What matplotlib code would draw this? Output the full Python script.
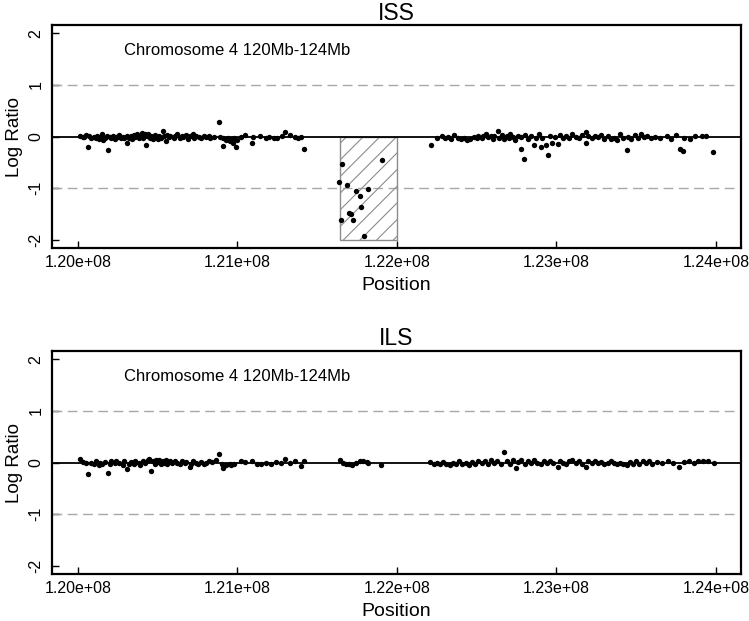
import numpy as np
import matplotlib
matplotlib.use("Agg")
import matplotlib.pyplot as plt
from matplotlib.patches import Rectangle
from matplotlib.ticker import FuncFormatter

plt.rcParams["font.family"] = ["Liberation Sans", "DejaVu Sans"]
plt.rcParams["hatch.linewidth"] = 0.8
plt.rcParams["axes.unicode_minus"] = False

# ISS probes: position (Mb) and log ratio
iss_pos = [
    120.01, 120.03, 120.04, 120.05, 120.065, 120.07, 120.08, 120.10, 120.11, 120.12,
    120.13, 120.14, 120.15, 120.16, 120.17, 120.18, 120.19, 120.20, 120.21, 120.22,
    120.23, 120.24, 120.25, 120.26, 120.27, 120.28, 120.29, 120.305, 120.31, 120.32,
    120.33, 120.34, 120.35, 120.36, 120.37, 120.38, 120.39, 120.40, 120.41, 120.42,
    120.425, 120.43, 120.44, 120.45, 120.46, 120.47, 120.48, 120.49, 120.50, 120.51,
    120.52, 120.53, 120.54, 120.55, 120.56, 120.57, 120.58, 120.60, 120.61, 120.62,
    120.64, 120.65, 120.66, 120.68, 120.69, 120.70, 120.72, 120.73, 120.74, 120.76,
    120.77, 120.79, 120.80, 120.82, 120.83, 120.85, 120.887, 120.89, 120.91, 120.912,
    120.93, 120.94, 120.95, 120.96, 120.97, 120.98, 120.99, 121.00, 121.02, 121.05,
    121.088, 121.10, 121.14, 121.18, 121.20, 121.23, 121.25, 121.28, 121.30, 121.33,
    121.36, 121.38, 121.40, 121.417,
    # deleted region
    121.636, 121.647, 121.655, 121.684, 121.697, 121.714, 121.726, 121.745, 121.766,
    121.774, 121.793, 121.818, 121.905,
    122.215, 122.25, 122.28, 122.30, 122.32, 122.34, 122.36, 122.38, 122.40, 122.42,
    122.44, 122.46, 122.48, 122.50, 122.51, 122.53, 122.54, 122.56, 122.57, 122.59,
    122.60, 122.61, 122.632, 122.64, 122.66, 122.67, 122.69, 122.70, 122.71, 122.73,
    122.74, 122.76, 122.776, 122.78, 122.795, 122.80, 122.82, 122.84, 122.862, 122.87,
    122.89, 122.903, 122.91, 122.937, 122.95, 122.96, 122.97, 122.99, 123.008, 123.02,
    123.04, 123.06, 123.08, 123.10, 123.12, 123.14, 123.16, 123.183, 123.185, 123.20,
    123.22, 123.24, 123.26, 123.28, 123.30, 123.32, 123.34, 123.36, 123.38, 123.40,
    123.42, 123.442, 123.45, 123.47, 123.49, 123.51, 123.53, 123.55, 123.57, 123.59,
    123.62, 123.65, 123.69, 123.72, 123.75, 123.774, 123.793, 123.80, 123.84, 123.87,
    123.91, 123.94, 123.984,
]
iss_ratio = [
    0.02, 0.00, -0.01, 0.03, -0.21, 0.01, -0.02, 0.00, -0.03, 0.02,
    -0.05, -0.01, 0.04, -0.06, -0.02, 0.01, -0.26, 0.00, -0.03, 0.02,
    -0.04, 0.00, -0.01, 0.03, -0.02, 0.00, -0.03, -0.12, 0.01, -0.02,
    0.02, -0.04, 0.03, -0.01, 0.05, -0.03, 0.02, 0.06, -0.02, 0.04,
    -0.16, 0.01, 0.05, -0.03, 0.02, -0.05, 0.03, 0.00, -0.04, 0.02,
    -0.02, 0.10, 0.01, -0.08, 0.03, -0.01, 0.02, -0.03, 0.01, 0.04,
    -0.02, 0.02, -0.01, 0.03, -0.04, 0.01, 0.05, -0.02, 0.02, 0.00,
    -0.03, 0.02, 0.00, 0.01, -0.02, 0.00, 0.29, -0.01, -0.03, -0.19,
    -0.06, -0.02, -0.09, -0.05, -0.12, -0.03, -0.20, -0.07, 0.00, 0.03,
    -0.13, -0.01, 0.02, -0.02, 0.00, -0.03, -0.02, 0.01, 0.08, 0.03,
    0.00, -0.02, 0.00, -0.25,
    -0.89, -1.62, -0.54, -0.93, -1.48, -1.51, -1.61, -1.05, -1.15,
    -1.37, -1.92, -1.02, -0.45,
    -0.17, -0.02, 0.01, -0.03, 0.00, -0.04, 0.03, -0.03, -0.05, -0.02,
    -0.06, -0.04, 0.00, -0.02, 0.02, -0.03, 0.01, 0.04, -0.01, 0.02,
    -0.04, 0.01, 0.10, -0.02, 0.03, -0.05, 0.01, -0.03, 0.04, 0.00,
    -0.06, 0.02, -0.25, -0.01, -0.43, 0.03, -0.04, 0.01, -0.16, -0.03,
    0.04, -0.20, -0.02, -0.17, -0.35, 0.02, -0.13, 0.00, -0.15, 0.03,
    -0.02, 0.01, -0.03, 0.04, 0.00, -0.02, 0.03, 0.09, -0.12, 0.01,
    -0.03, 0.02, -0.01, 0.03, -0.04, 0.01, -0.05, -0.02, -0.06, 0.04,
    -0.03, -0.26, 0.00, -0.04, 0.03, -0.02, 0.05, -0.01, 0.02, -0.03,
    0.00, -0.02, 0.01, -0.04, 0.03, -0.25, -0.28, -0.02, -0.05, 0.01,
    0.02, 0.01, -0.30,
]

# ILS probes
ils_pos = [
    120.013, 120.03, 120.05, 120.065, 120.08, 120.10, 120.11, 120.13, 120.14, 120.15,
    120.17, 120.19, 120.20, 120.21, 120.23, 120.24, 120.26, 120.28, 120.29, 120.305,
    120.32, 120.33, 120.35, 120.36, 120.38, 120.39, 120.41, 120.42, 120.44, 120.445,
    120.46, 120.47, 120.48, 120.49, 120.50, 120.51, 120.52, 120.53, 120.54, 120.55,
    120.56, 120.58, 120.59, 120.61, 120.62, 120.64, 120.65, 120.67, 120.68, 120.70,
    120.71, 120.72, 120.74, 120.75, 120.77, 120.79, 120.80, 120.82, 120.84, 120.865,
    120.887, 120.90, 120.912, 120.93, 120.95, 120.96, 120.98, 121.02, 121.05, 121.09,
    121.12, 121.15, 121.18, 121.21, 121.24, 121.27, 121.30, 121.33, 121.36, 121.40,
    121.42,
    121.64, 121.66, 121.68, 121.70, 121.72, 121.74, 121.77, 121.79, 121.81, 121.82,
    121.90,
    122.21, 122.23, 122.25, 122.27, 122.29, 122.31, 122.33, 122.35, 122.37, 122.39,
    122.41, 122.43, 122.45, 122.47, 122.49, 122.51, 122.53, 122.55, 122.57, 122.59,
    122.61, 122.63, 122.65, 122.674, 122.69, 122.71, 122.73, 122.747, 122.76, 122.78,
    122.80, 122.82, 122.84, 122.86, 122.88, 122.90, 122.92, 122.94, 122.96, 122.98,
    123.008, 123.02, 123.04, 123.06, 123.08, 123.10, 123.12, 123.14, 123.16, 123.185,
    123.20, 123.22, 123.24, 123.26, 123.28, 123.30, 123.32, 123.34, 123.36, 123.38,
    123.40, 123.42, 123.44, 123.46, 123.48, 123.50, 123.52, 123.54, 123.56, 123.58,
    123.60, 123.63, 123.66, 123.70, 123.73, 123.77, 123.80, 123.83, 123.86, 123.89,
    123.92, 123.95, 123.99,
]
ils_ratio = [
    0.07, 0.01, -0.01, -0.22, 0.00, -0.03, 0.02, -0.04, 0.00, -0.02,
    0.01, -0.20, -0.03, 0.02, -0.01, 0.03, 0.00, -0.04, 0.02, -0.12,
    -0.03, 0.01, -0.02, 0.03, 0.00, -0.04, 0.02, -0.01, 0.04, 0.07,
    -0.16, 0.02, -0.02, 0.04, 0.01, 0.05, -0.02, 0.03, 0.00, 0.04,
    -0.03, 0.02, -0.01, 0.03, 0.00, -0.02, 0.02, -0.01, 0.01, -0.09,
    -0.02, 0.02, 0.00, -0.03, 0.01, -0.02, 0.00, 0.02, 0.01, 0.05,
    0.16, -0.03, -0.10, -0.04, -0.02, -0.05, -0.02, 0.02, 0.01, 0.02,
    -0.02, -0.03, 0.00, -0.02, 0.01, -0.01, 0.07, 0.00, 0.02, -0.06,
    0.02,
    0.05, 0.00, -0.03, -0.02, -0.05, 0.00, 0.02, 0.03, 0.01, 0.00,
    -0.04,
    0.01, -0.02, 0.00, -0.03, 0.01, -0.02, -0.04, -0.01, -0.03, 0.02,
    -0.02, 0.00, -0.04, 0.01, -0.02, 0.03, -0.01, 0.02, -0.03, 0.04,
    0.00, 0.03, -0.02, 0.20, 0.02, -0.03, 0.04, -0.10, 0.01, 0.05,
    -0.02, 0.03, -0.01, 0.04, 0.00, -0.03, 0.02, -0.01, 0.03, 0.00,
    -0.09, 0.02, 0.00, -0.03, 0.02, 0.04, -0.01, 0.02, -0.02, -0.08,
    0.03, 0.00, 0.02, -0.01, 0.01, -0.02, 0.00, 0.02, -0.01, -0.03,
    0.00, -0.02, -0.05, 0.01, -0.03, 0.02, -0.02, 0.03, 0.00, 0.02,
    -0.02, 0.01, -0.01, 0.02, -0.01, -0.09, 0.01, 0.02, -0.01, 0.02,
    0.03, 0.02, 0.00,
]

region_label = "Chromosome 4 120Mb-124Mb"
deletion = (121.64, 122.00)   # Mb, shaded in ISS
x_ticks = [1.20e8, 1.21e8, 1.22e8, 1.23e8, 1.24e8]
y_ticks = [-2, -1, 0, 1, 2]


def sci(v, _):
    m, e = f"{v:.2e}".split("e")
    return f"{m}e+{int(e):02d}"


def panel(ax, title, pos, ratio, shade=None):
    x = np.array(pos) * 1e6
    ax.set_xlim(1.19837e8, 1.24155e8)
    ax.set_ylim(-2.16, 2.16)
    ax.axhline(1, color="#a8a8a8", lw=1.0, dashes=(7, 4))
    ax.axhline(-1, color="#a8a8a8", lw=1.0, dashes=(7, 4))
    if shade:
        ax.add_patch(Rectangle((shade[0] * 1e6, -2), (shade[1] - shade[0]) * 1e6, 2,
                               facecolor="none", edgecolor="#8c8c8c", lw=1.0,
                               hatch="//", zorder=2))
    ax.axhline(0, color="black", lw=1.3, zorder=3)
    ax.scatter(x, ratio, s=15, color="black", linewidths=0, zorder=4)
    ax.text(1.21e8, 1.67, region_label, ha="center", va="center", fontsize=12)
    ax.set_title(title, fontsize=16.5, pad=4)
    ax.set_xlabel("Position", fontsize=14, labelpad=5)
    ax.set_ylabel("Log Ratio", fontsize=13.5, labelpad=4)
    ax.set_xticks(x_ticks)
    ax.set_yticks(y_ticks)
    ax.xaxis.set_major_formatter(FuncFormatter(sci))
    ax.tick_params(direction="in", length=5, width=1.0, labelsize=11.5)
    ax.tick_params(axis="y", labelrotation=90, pad=6)
    ax.tick_params(axis="x", pad=5)
    for lab in ax.get_yticklabels():
        lab.set_va("center")
    for sp in ax.spines.values():
        sp.set_linewidth(1.6)


fig = plt.figure(figsize=(7.49, 6.21), dpi=100)
ax1 = fig.add_axes([0.0694, 0.6006, 0.9195, 0.359])
ax2 = fig.add_axes([0.0694, 0.0757, 0.9195, 0.359])
panel(ax1, "ISS", iss_pos, iss_ratio, shade=deletion)
panel(ax2, "ILS", ils_pos, ils_ratio)
fig.savefig("out.png", dpi=100)
